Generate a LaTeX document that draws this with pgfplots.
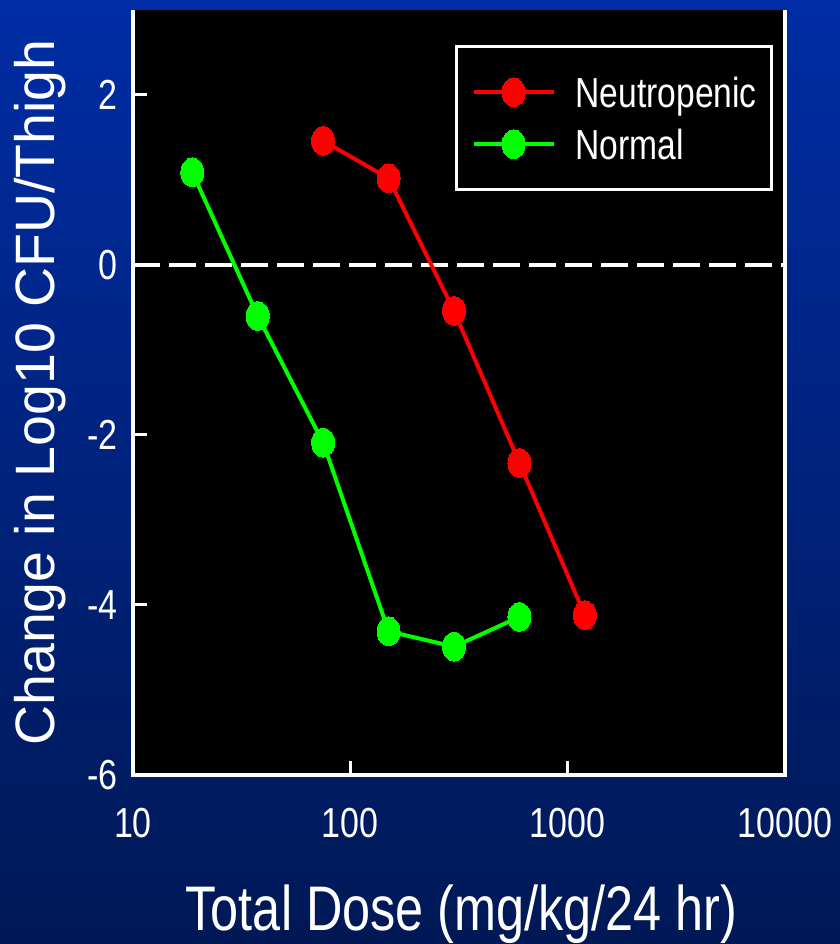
\documentclass[border=0pt]{standalone}
\usepackage{pgfplots}
\pgfplotsset{compat=1.18}
\usepackage{fontspec}
\setmainfont{Liberation Sans}
\newfontfamily\condfont[FakeStretch=0.80]{Liberation Sans}
\newfontfamily\tickfontfam[FakeStretch=0.81]{Liberation Sans}
\newcommand\tickfont{\tickfontfam\fontsize{42bp}{42bp}\selectfont}
\newcommand\legfont{\condfont\fontsize{42bp}{42bp}\selectfont}
\newcommand\xlabfont{\condfont\fontsize{63bp}{63bp}\selectfont}
\newcommand\ylabfont{\fontsize{55.5bp}{55.5bp}\selectfont}
\definecolor{bgtop}{RGB}{0,45,165}
\definecolor{bgbot}{RGB}{0,24,85}
\definecolor{myred}{RGB}{255,0,0}
\definecolor{mygreen}{RGB}{0,255,0}
\begin{document}
\begin{tikzpicture}
\shade[top color=bgtop, bottom color=bgbot] (0,0) rectangle (840bp,944bp);
\useasboundingbox (0,0) rectangle (840bp,944bp);
\begin{axis}[
  at={(133bp,169bp)}, anchor=south west,
  scale only axis, width=652bp, height=765bp,
  xmode=log, xmin=10, xmax=10000, ymin=-6, ymax=3,
  clip=false,
  axis background/.style={fill=black},
  axis line style={draw=none},
  xtick={10,100,1000,10000}, xticklabels={10,100,1000,10000},
  ytick={-6,-4,-2,0,2}, yticklabels={-6,-4,-2,0,2},
  xminorticks=false, yminorticks=false,
  tick align=inside, major tick length=14bp,
  xtick pos=bottom, ytick pos=left,
  tick style={white, line width=3bp},
  xticklabel style={font=\tickfont, text=white, anchor=north, inner sep=0pt, yshift=-33bp},
  yticklabel style={font=\tickfont, text=white, anchor=east, inner sep=0pt, xshift=-15bp},
  xlabel={Total Dose (mg/kg/24 hr)},
  xlabel style={font=\xlabfont, text=white, at={(axis description cs:0.504,-0.1438)}, anchor=north, inner sep=0pt},
  ylabel={Change in Log10 CFU/Thigh},
  ylabel style={font=\ylabfont, text=white, at={(axis description cs:-0.183,0.5)}, anchor=north, inner sep=0pt},
  legend style={at={(0.982,0.954)}, anchor=north east, draw=white, line width=3bp, fill=black,
    text=white, font=\legfont, inner xsep=15bp, inner ysep=30bp, row sep=21bp,
    nodes={inner sep=0pt, text height=31bp, text depth=0bp},
    /tikz/every odd column/.append style={column sep=20bp}},
  legend cell align=left,
  legend image code/.code={\draw[#1, mark repeat=2, mark phase=2] plot coordinates {(0bp,0bp) (40bp,0bp) (80bp,0bp)};},
]
\addplot[white, line width=4bp, dash pattern=on 27bp off 9bp, forget plot] coordinates {(10,0) (10000,0)};
\addplot[myred, line width=4bp, mark=*, mark size=11.5bp,
  mark options={yscale=1.26, solid, fill=myred, draw=myred, line width=0pt}]
  coordinates {(75,1.46) (150,1.02) (300,-0.54) (600,-2.33) (1200,-4.12)};
\addlegendentry{Neutropenic}
\addplot[mygreen, line width=4bp, mark=*, mark size=11.5bp,
  mark options={yscale=1.26, solid, fill=mygreen, draw=mygreen, line width=0pt}]
  coordinates {(18.75,1.09) (37.5,-0.6) (75,-2.09) (150,-4.31) (300,-4.49) (600,-4.14)};
\addlegendentry{Normal}
\draw[white, line width=4bp] (rel axis cs:0,1) -- (rel axis cs:0,0) -- (rel axis cs:1,0) -- (rel axis cs:1,1);
\end{axis}
\end{tikzpicture}
\end{document}
